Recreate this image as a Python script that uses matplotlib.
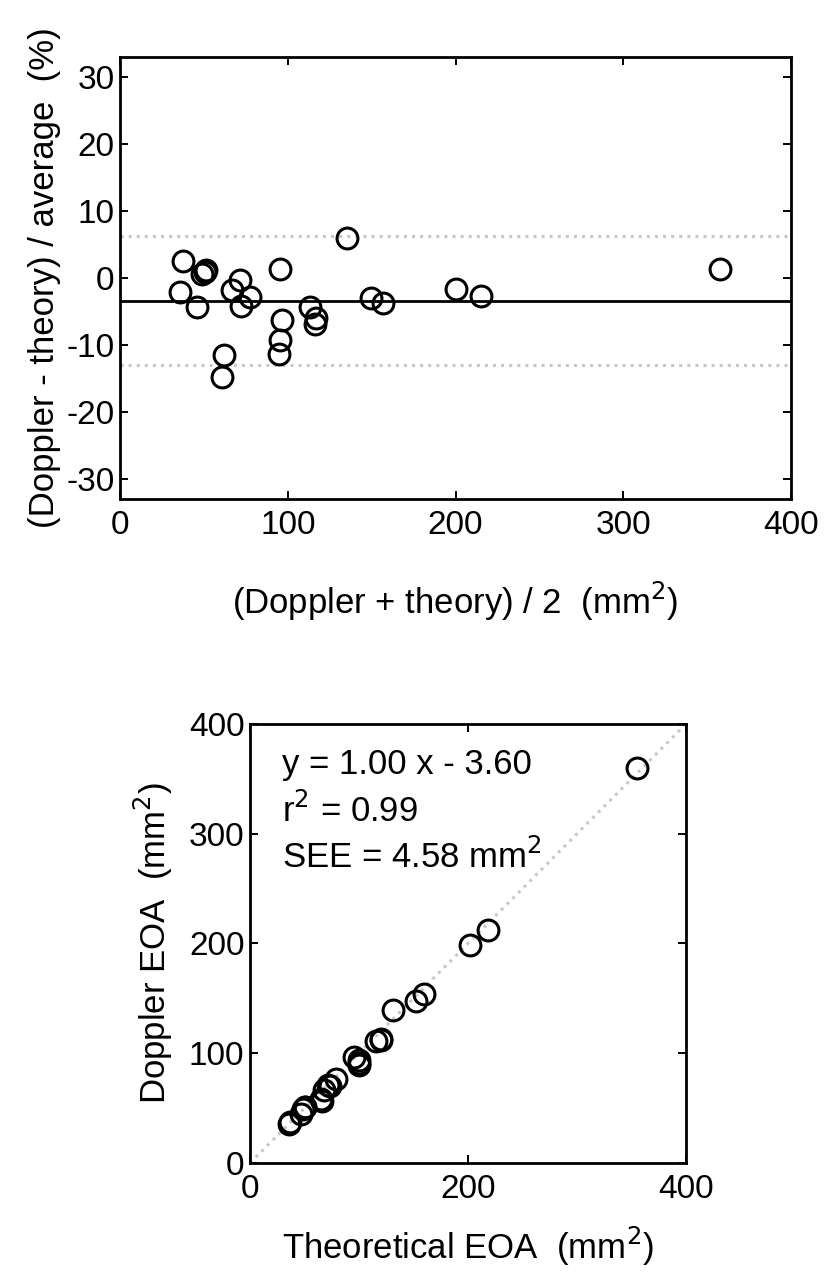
import matplotlib.pyplot as plt

plt.rcParams['font.family'] = ['Liberation Sans', 'DejaVu Sans']
plt.rcParams['axes.unicode_minus'] = False

# Bland-Altman data: mean of the two methods (mm^2) and difference / average (%)
avg_eoa = [37.3, 35.7, 46.0, 49.0, 50.5, 51.0, 71.4, 67.0, 77.4, 72.0, 61.9, 61.1,
           95.6, 96.8, 95.6, 94.6, 113.5, 116.7, 116.0, 135.1, 149.8, 156.7,
           200.0, 215.3, 357.5]
diff_pct = [2.6, -2.1, -4.3, 0.6, 0.9, 1.2, -0.3, -1.8, -2.9, -4.2, -11.5, -14.8,
            1.3, -6.3, -9.2, -11.4, -4.4, -5.9, -6.9, 6.0, -3.0, -3.8,
            -1.7, -2.7, 1.4]
mean_diff = -3.4
upper_loa = 6.3
lower_loa = -13.0

# Regression data: theoretical EOA vs Doppler EOA (mm^2)
theory_eoa = [36.8, 36.1, 47.0, 48.9, 50.3, 50.7, 71.5, 67.6, 78.5, 73.5, 65.5, 65.6,
              95.0, 99.8, 100.0, 100.0, 116.0, 120.1, 120.0, 131.0, 152.0, 159.7,
              201.7, 218.2, 355.0]
doppler_eoa = [37.8, 35.3, 45.0, 49.1, 50.7, 51.3, 71.3, 66.4, 76.3, 70.5, 58.3, 56.6,
               96.2, 93.8, 91.2, 89.2, 111.0, 113.3, 112.0, 139.2, 147.6, 153.7,
               198.3, 212.4, 360.0]

fig = plt.figure(figsize=(8.27, 12.82), dpi=100)

fs_tick = 24
fs_lab = 25
marker_kw = dict(marker='o', linestyle='none', markersize=15, markerfacecolor='none',
                 markeredgecolor='black', markeredgewidth=2.2)


def style_axes(ax):
    ax.tick_params(direction='in', top=True, right=True, length=6, width=1.4,
                   labelsize=fs_tick)
    ax.tick_params(axis='y', pad=4)
    ax.tick_params(axis='x', pad=8)
    for s in ax.spines.values():
        s.set_linewidth(2)


# top: Bland-Altman
ax1 = fig.add_axes([0.1451, 0.6108, 0.8114, 0.3447])
ax1.axhline(upper_loa, color='#c8c8c8', linestyle=':', linewidth=2.2)
ax1.axhline(lower_loa, color='#c8c8c8', linestyle=':', linewidth=2.2)
ax1.axhline(mean_diff, color='black', linewidth=2)
ax1.plot(avg_eoa, diff_pct, **marker_kw)
ax1.set_xlim(0, 400)
ax1.set_ylim(-33, 33)
ax1.set_xticks([0, 100, 200, 300, 400])
ax1.set_yticks([-30, -20, -10, 0, 10, 20, 30])
style_axes(ax1)
ax1.set_xlabel('(Doppler + theory) / 2  (mm$^2$)', fontsize=fs_lab, labelpad=28)
ax1.set_ylabel('(Doppler - theory) / average  (%)', fontsize=fs_lab, labelpad=4)

# bottom: regression
ax2 = fig.add_axes([0.3023, 0.0928, 0.5272, 0.3425])
ax2.plot([0, 400], [0, 400], color='#c8c8c8', linestyle=':', linewidth=2.2)
ax2.plot(theory_eoa, doppler_eoa, **marker_kw)
ax2.set_xlim(0, 400)
ax2.set_ylim(0, 400)
ax2.set_xticks([0, 200, 400])
ax2.set_yticks([0, 100, 200, 300, 400])
style_axes(ax2)
ax2.set_xlabel('Theoretical EOA  (mm$^2$)', fontsize=fs_lab, labelpad=14)
ax2.set_ylabel('Doppler EOA  (mm$^2$)', fontsize=fs_lab, labelpad=10)
ax2.text(29, 363, 'y = 1.00 x - 3.60', fontsize=fs_lab, va='center')
ax2.text(29, 321, 'r$^2$ = 0.99', fontsize=fs_lab, va='center')
ax2.text(29, 279, 'SEE = 4.58 mm$^2$', fontsize=fs_lab, va='center')

fig.savefig('out.png', dpi=100)
